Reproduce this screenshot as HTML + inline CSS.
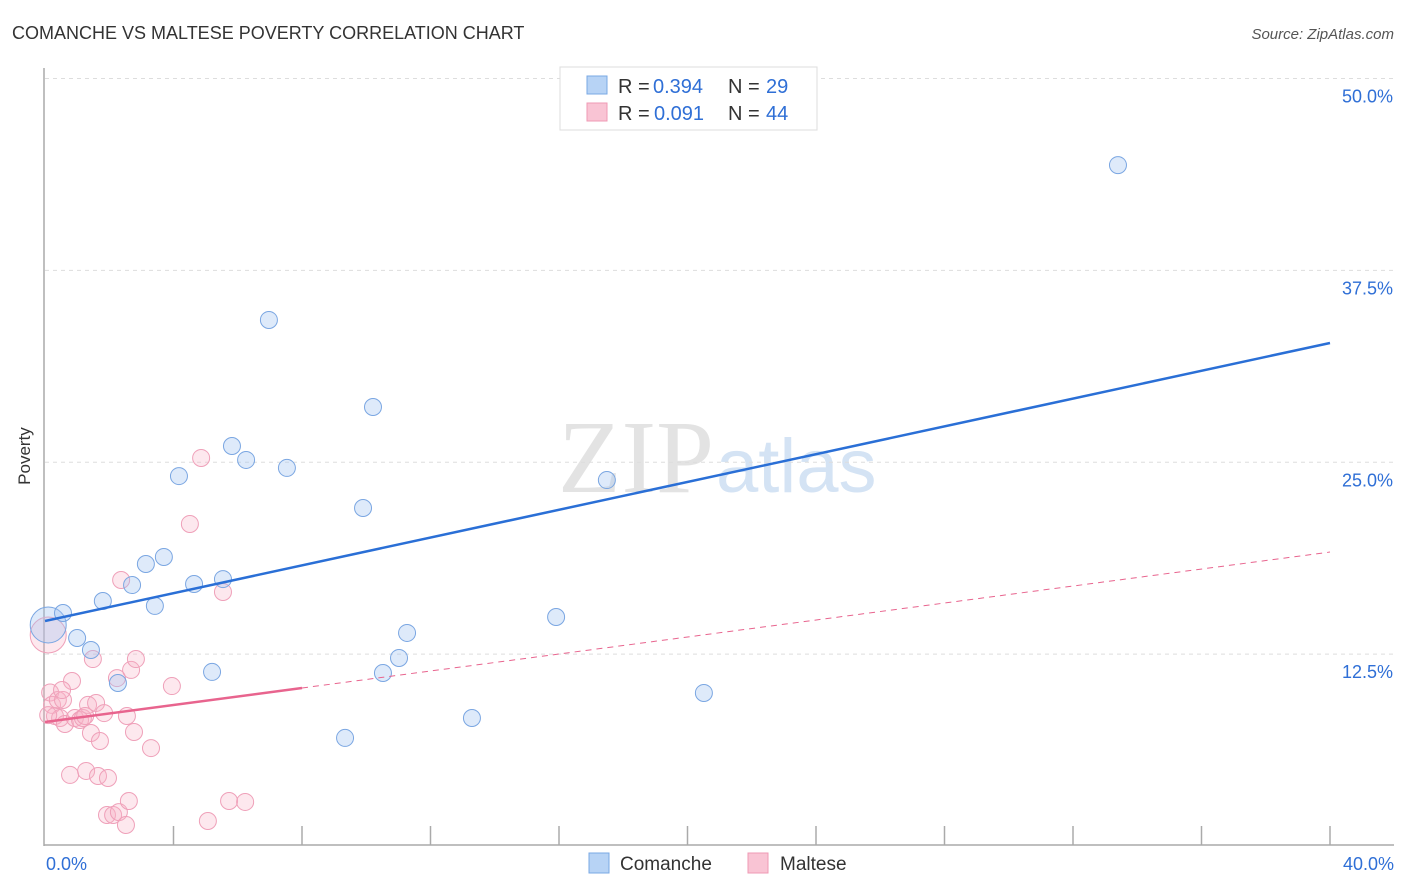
<!DOCTYPE html>
<html><head><meta charset="utf-8"><style>
body{margin:0;background:#fff;font-family:"Liberation Sans",sans-serif}
svg{display:block}
</style></head><body>
<svg id="c" width="1406" height="892">
<text x="12" y="39" font-size="18" fill="#333">COMANCHE VS MALTESE POVERTY CORRELATION CHART</text>
<text x="1394" y="39" font-size="15" fill="#555" font-style="italic" text-anchor="end">Source: ZipAtlas.com</text>
<text x="30" y="456" font-size="17" fill="#333" text-anchor="middle" transform="rotate(-90 30 456)">Poverty</text>
<text x="714" y="492" font-size="104" fill="#e3e3e3" text-anchor="end" font-family="Liberation Serif,serif">ZIP</text>
<text x="716" y="492" font-size="76" fill="#d4e3f4">atlas</text>
<g id="grid"></g><g id="pts"></g><g id="lines"></g>
<g>
<rect x="560" y="67" width="257" height="63" fill="#fff" stroke="#ddd"/>
<rect x="587" y="76" width="20" height="18" fill="#b7d3f5" stroke="#7aa8e4"/>
<rect x="587" y="103" width="20" height="18" fill="#f9c4d4" stroke="#ef9ab4"/>
<text y="93" font-size="20" fill="#333"><tspan x="618">R =</tspan><tspan x="653" fill="#2f6fd6">0.394</tspan><tspan x="728">N =</tspan><tspan x="766" fill="#2f6fd6">29</tspan></text>
<text y="120" font-size="20" fill="#333"><tspan x="618">R =</tspan><tspan x="654" fill="#2f6fd6">0.091</tspan><tspan x="728">N =</tspan><tspan x="766" fill="#2f6fd6">44</tspan></text>
</g>
<g>
<rect x="589" y="853" width="20" height="20" fill="#b7d3f5" stroke="#7aa8e4"/>
<text x="620" y="870" font-size="19" fill="#333">Comanche</text>
<rect x="748" y="853" width="20" height="20" fill="#f9c4d4" stroke="#ef9ab4"/>
<text x="780" y="870" font-size="19" fill="#333">Maltese</text>
</g>
</svg>
<script>
const yTicks=[12.5,25,37.5,50];
const yTickLabels=["12.5%","25.0%","37.5%","50.0%"];
const xTickLabels=["0.0%","40.0%"];
const comancheX=[0.1,0.56,1.0,1.43,1.8,2.27,2.71,3.14,3.42,3.7,4.17,4.64,5.2,5.54,5.82,6.26,6.97,7.53,9.9,10.21,9.34,10.52,11.02,11.27,13.29,15.91,17.49,20.51,33.4];
const comancheY=[14.4,15.18,13.55,12.77,15.96,10.62,17.0,18.37,15.64,18.83,24.1,17.07,11.34,17.39,26.06,25.15,34.27,24.63,22.02,28.6,7.04,11.27,12.25,13.88,8.34,14.92,23.84,9.97,44.36];
const malteseX=[0.1,0.16,0.22,0.31,0.4,0.47,0.56,0.62,0.78,0.84,0.93,1.09,1.18,1.28,1.34,1.43,1.49,1.59,1.65,1.71,1.84,1.96,1.93,2.12,2.24,2.3,2.37,2.52,2.55,2.61,2.68,2.77,2.83,3.3,3.95,4.51,4.86,5.07,5.54,5.73,6.23,0.53,1.25,0.1];
const malteseY=[13.75,10.0,9.19,8.47,9.51,8.34,9.51,7.95,4.63,10.75,8.34,8.21,8.34,4.89,9.19,7.36,12.18,9.32,4.56,6.84,8.66,4.43,2.02,2.02,10.94,2.21,17.33,1.37,8.47,2.93,11.47,7.43,12.18,6.38,10.42,20.98,25.28,1.63,16.55,2.93,2.87,10.16,8.47,8.53];
const comancheTrend=[14.66,32.77];
const malteseTrend=[8.08,19.15];
const NS='http://www.w3.org/2000/svg';
const X=v=>45+v*32.125, Y=v=>846-v*15.35;
function mk(t,a,p){const e=document.createElementNS(NS,t);for(const k in a)e.setAttribute(k,a[k]);p.appendChild(e);return e;}
const grid=document.getElementById('grid'),pts=document.getElementById('pts'),lines=document.getElementById('lines');
yTicks.forEach((t,i)=>{
 const l=mk('line',{x1:45,x2:1394,y1:Y(t),y2:Y(t),stroke:'#ddd','stroke-dasharray':'4 4'},grid);
 
 
 const tx=mk('text',{x:1393,y:Y(t)+24,'font-size':18,fill:'#2f6fd6','text-anchor':'end'},grid);tx.textContent=yTickLabels[i];
 
 
});
mk('line',{x1:44,x2:44,y1:68,y2:846,stroke:'#aaa','stroke-width':1.5},grid);
mk('line',{x1:44,x2:1394,y1:845,y2:845,stroke:'#aaa','stroke-width':1.5},grid);
for(let i=1;i<=10;i++){mk('line',{x1:X(i*4),x2:X(i*4),y1:826,y2:845,stroke:'#aaa','stroke-width':1.5},grid);}
[[0,'start',46],[40,'end',1394]].forEach((d,i)=>{const t=mk('text',{x:d[2],y:870,'font-size':18,fill:'#2f6fd6','text-anchor':d[1]},grid);t.textContent=xTickLabels[i];
 
 });
function dots(xs,ys,fill,stroke,name){xs.forEach((x,i)=>{const c=mk('circle',{cx:X(x),cy:Y(ys[i]),r:i==0?18:8.5,fill:fill,stroke:stroke,'stroke-width':1},pts);
 
 });}
dots(malteseX,malteseY,'rgba(248,180,200,0.3)','#efa0b9','maltese-point');
dots(comancheX,comancheY,'rgba(160,196,240,0.35)','#7aa6e2','comanche-point');
const bl=mk('line',{x1:X(0),y1:Y(comancheTrend[0]),x2:X(40),y2:Y(comancheTrend[1]),stroke:'#2a6fd6','stroke-width':2.5},lines);


const pm=v=>malteseTrend[0]+(malteseTrend[1]-malteseTrend[0])*v/40;
const pl=mk('line',{x1:X(0),y1:Y(pm(0)),x2:X(8),y2:Y(pm(8)),stroke:'#e8648e','stroke-width':2.5},lines);


const pd=mk('line',{x1:X(8),y1:Y(pm(8)),x2:X(40),y2:Y(pm(40)),stroke:'#e8648e','stroke-width':1,'stroke-dasharray':'6 5'},lines);


</script>
</body></html>
